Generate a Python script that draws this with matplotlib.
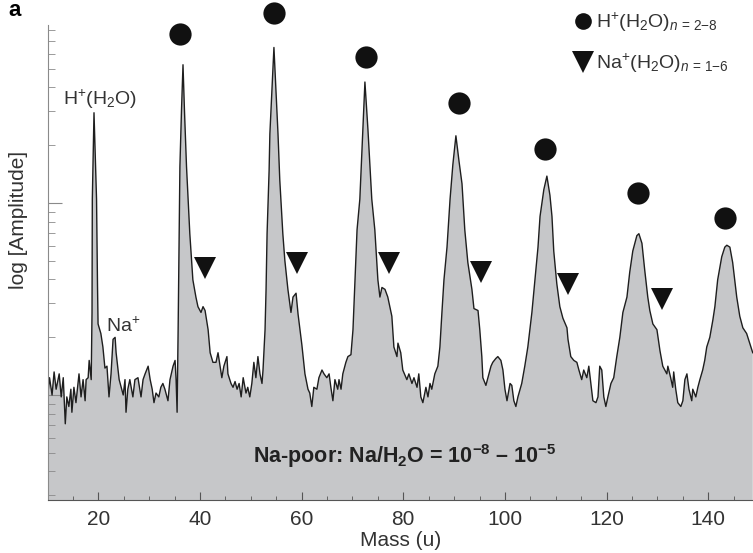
import numpy as np
import matplotlib.pyplot as plt
from matplotlib.lines import Line2D
from matplotlib.ticker import MultipleLocator, NullFormatter, LogLocator

plt.rcParams['font.family'] = ['Liberation Sans', 'DejaVu Sans']
plt.rcParams['mathtext.fontset'] = 'custom'
plt.rcParams['mathtext.rm'] = 'Liberation Sans'
plt.rcParams['mathtext.it'] = 'Liberation Sans:italic'
plt.rcParams['mathtext.bf'] = 'Liberation Sans:bold'

# spectrum: mass (u) and log10 amplitude (arb.)
mass_u = [
    10.1, 10.4, 10.9, 11.3, 11.7, 12.3, 12.7, 13.1, 13.5, 13.8,
    14.2, 14.6, 14.8, 15.2, 15.6, 16.2, 16.6, 17.0, 17.4, 17.6,
    18.0, 18.2, 18.6, 18.76, 18.82, 19.15, 19.65, 19.84, 19.95, 20.5,
    20.9, 21.3, 21.7, 22.1, 22.5, 22.9, 23.3, 23.5, 24.1, 24.5,
    24.9, 25.25, 25.45, 25.8, 26.2, 26.8, 27.2, 27.8, 28.4, 28.8,
    29.2, 29.8, 30.2, 30.6, 30.95, 31.35, 31.9, 32.3, 32.7, 33.1,
    33.7, 34.1, 34.7, 35.1, 35.3, 35.5, 35.7, 35.9, 36.05, 36.36,
    36.66, 36.95, 37.35, 38.0, 38.6, 39.2, 39.6, 40.2, 40.6, 41.0,
    41.6, 42.0, 42.55, 43.15, 43.55, 43.9, 44.3, 44.7, 45.3, 45.5,
    46.1, 46.5, 46.9, 47.3, 47.7, 48.1, 48.5, 49.05, 49.4, 49.8,
    50.2, 50.6, 51.0, 51.4, 51.8, 52.2, 52.4, 52.8, 53.0, 53.2,
    53.6, 53.75, 54.15, 54.55, 54.95, 55.35, 55.7, 56.3, 56.7, 57.3,
    57.9, 58.3, 58.9, 59.3, 60.05, 60.65, 61.25, 61.6, 62.0, 62.4,
    63.0, 63.4, 64.0, 64.4, 64.95, 65.4, 65.75, 66.15, 66.55, 67.1,
    67.35, 67.75, 68.1, 68.7, 69.1, 69.7, 70.1, 70.5, 70.9, 71.45,
    72.05, 72.45, 73.05, 73.8, 74.4, 75.0, 75.4, 75.8, 76.4, 76.95,
    77.75, 78.15, 78.75, 78.95, 79.5, 79.9, 80.7, 81.1, 81.7, 82.1,
    82.7, 83.05, 83.45, 83.85, 84.45, 84.85, 85.25, 85.6, 86.2, 86.8,
    87.2, 87.6, 88.0, 88.6, 89.2, 89.75, 90.35, 90.95, 91.55, 92.1,
    92.7, 93.5, 93.9, 94.7, 95.05, 95.45, 95.65, 96.25, 96.65, 97.25,
    97.6, 98.2, 98.6, 99.2, 99.6, 100.0, 100.4, 101.0, 101.35, 101.75,
    102.15, 102.55, 103.3, 103.9, 104.5, 105.3, 105.9, 106.5, 106.9, 107.65,
    108.25, 108.85, 109.25, 109.6, 110.2, 110.8, 111.4, 112.2, 112.4, 112.95,
    113.55, 114.15, 114.55, 115.1, 115.5, 116.1, 116.5, 116.9, 117.3, 117.9,
    118.3, 118.65, 119.05, 119.45, 119.85, 120.25, 120.85, 121.4, 122.0, 122.6,
    123.2, 124.0, 124.55, 125.15, 125.95, 126.35, 126.95, 127.5, 128.1, 128.5,
    129.1, 129.9, 130.5, 131.05, 131.85, 132.05, 132.6, 133.0, 133.2, 133.6,
    134.0, 134.6, 135.0, 135.4, 135.8, 136.2, 136.75, 136.95, 137.55, 137.95,
    138.35, 138.9, 139.3, 139.7, 140.3, 140.9, 141.3, 141.85, 142.65, 143.25,
    143.65, 144.25, 144.8, 145.6, 146.2, 146.8, 147.55, 148.15, 148.75,
]
log_amp = [
    -0.99, -0.91, -1.00, -0.88, -0.97, -0.89, -1.01, -0.91, -1.15, -1.01,
    -1.06, -0.97, -1.09, -0.96, -1.04, -0.89, -1.01, -0.92, -1.03, -0.92,
    -0.91, -0.82, -0.92, -0.57, 0.02, 0.47, 0.02, -0.43, -0.63, -0.68,
    -0.75, -0.86, -0.85, -1.01, -0.89, -0.71, -0.70, -0.78, -0.92, -0.96,
    -1.00, -0.92, -1.09, -0.97, -0.92, -1.01, -0.92, -0.91, -1.01, -0.92,
    -0.89, -0.85, -0.92, -0.97, -1.04, -0.99, -1.01, -0.96, -0.94, -0.97,
    -1.03, -0.92, -0.85, -0.82, -0.92, -1.09, -0.66, -0.16, 0.19, 0.48,
    0.72, 0.48, 0.19, -0.16, -0.40, -0.49, -0.54, -0.57, -0.54, -0.56,
    -0.66, -0.78, -0.83, -0.83, -0.78, -0.84, -0.91, -0.85, -0.80, -0.89,
    -0.94, -0.96, -0.93, -0.97, -0.94, -1.01, -0.91, -0.99, -0.96, -1.01,
    -0.94, -0.83, -0.91, -0.80, -0.89, -0.94, -0.87, -0.66, -0.45, -0.16,
    0.17, 0.36, 0.59, 0.81, 0.59, 0.36, 0.12, -0.16, -0.30, -0.45,
    -0.57, -0.49, -0.47, -0.58, -0.74, -0.89, -0.97, -0.99, -1.06, -0.96,
    -0.97, -0.91, -0.87, -0.89, -0.91, -0.89, -0.96, -1.03, -0.92, -0.97,
    -0.92, -0.97, -0.89, -0.83, -0.80, -0.79, -0.66, -0.40, -0.14, 0.02,
    0.38, 0.63, 0.38, 0.02, -0.14, -0.40, -0.49, -0.44, -0.45, -0.49,
    -0.59, -0.75, -0.80, -0.73, -0.78, -0.87, -0.92, -0.89, -0.94, -0.91,
    -0.96, -0.89, -1.01, -1.04, -0.96, -1.01, -0.94, -0.97, -0.89, -0.85,
    -0.75, -0.57, -0.40, -0.23, 0.02, 0.20, 0.35, 0.22, 0.10, -0.14,
    -0.31, -0.45, -0.55, -0.56, -0.66, -0.80, -0.91, -0.95, -0.91, -0.85,
    -0.83, -0.81, -0.80, -0.82, -0.87, -0.97, -1.03, -0.94, -0.95, -1.03,
    -1.06, -1.01, -0.94, -0.85, -0.75, -0.57, -0.40, -0.23, -0.07, 0.07,
    0.14, 0.04, -0.07, -0.25, -0.42, -0.54, -0.60, -0.65, -0.71, -0.80,
    -0.82, -0.83, -0.87, -0.92, -0.87, -0.91, -0.85, -0.94, -1.03, -1.04,
    -1.01, -0.85, -0.87, -1.01, -1.06, -1.01, -0.94, -0.91, -0.80, -0.70,
    -0.57, -0.49, -0.36, -0.25, -0.17, -0.16, -0.21, -0.35, -0.49, -0.56,
    -0.63, -0.66, -0.77, -0.85, -0.89, -0.85, -0.91, -0.96, -0.88, -0.97,
    -1.04, -1.06, -1.03, -0.92, -0.89, -0.97, -1.03, -0.97, -1.01, -0.96,
    -0.92, -0.87, -0.82, -0.75, -0.70, -0.61, -0.54, -0.40, -0.28, -0.23,
    -0.22, -0.23, -0.31, -0.49, -0.59, -0.65, -0.68, -0.73, -0.78,
]

# cluster markers
h_mass = [36.1, 54.6, 72.7, 90.9, 107.9, 126.1, 143.3]
h_log = [0.88, 0.99, 0.76, 0.52, 0.28, 0.05, -0.08]
na_mass = [41.0, 59.1, 77.2, 95.3, 112.4, 130.9]
na_log = [-0.34, -0.31, -0.31, -0.36, -0.42, -0.50]

fig = plt.figure(figsize=(7.53, 5.53), dpi=100)
ax = fig.add_axes([48 / 753, 1 - 500 / 553, 705 / 753, 475 / 553])

amp = 10 ** np.array(log_amp)
ax.fill_between(mass_u, amp, 1e-3, color='#c6c7c9', lw=0)
ax.plot(mass_u, amp, color='#1e1e1e', lw=1.0)
ax.set_yscale('log')
ax.set_xlim(10.1, 148.8)
ax.set_ylim(10 ** -1.547, 10 ** 0.927)

ax.plot(h_mass, 10 ** np.array(h_log), 'o', color='#111111', ms=16, mew=0, clip_on=False)
ax.plot(na_mass, 10 ** np.array(na_log), 'v', color='#111111', ms=16.5, mew=0, clip_on=False)

for s in ['top', 'right']:
    ax.spines[s].set_visible(False)
ax.spines['left'].set_color('#8a8a8a')
ax.spines['bottom'].set_color('#555555')

ax.xaxis.set_major_locator(MultipleLocator(20))
ax.xaxis.set_minor_locator(MultipleLocator(5))
ax.yaxis.set_minor_locator(LogLocator(subs=range(2, 10)))
ax.yaxis.set_major_formatter(NullFormatter())
ax.yaxis.set_minor_formatter(NullFormatter())
ax.tick_params(axis='x', which='major', direction='in', length=6, color='#555555',
               labelsize=15, labelcolor='#333333', pad=7)
ax.tick_params(axis='x', which='minor', direction='in', length=3, color='#555555')
ax.tick_params(axis='y', which='major', direction='in', length=10, color='#8a8a8a')
ax.tick_params(axis='y', which='minor', direction='in', length=5, color='#8a8a8a')

ax.set_xlabel('Mass (u)', fontsize=15, color='#333333', labelpad=2)
ax.set_ylabel('log [Amplitude]', fontsize=15, color='#333333')
ax.yaxis.set_label_coords(-0.028, 0.59)

ax.text(13.0, 10 ** 0.54, r'H$^{+}$(H$_2$O)', fontsize=14, color='#333333', va='center', ha='left')
ax.text(21.5, 10 ** -0.64, r'Na$^{+}$', fontsize=14, color='#333333', va='center', ha='left')
ax.text(80.3, 10 ** -1.32, r'Na-poor: Na/H$_\mathbf{2}$O = 10$^{\mathbf{-8}}$ – 10$^{\mathbf{-5}}$',
        fontsize=15.5, fontweight='bold', color='#222222', va='center', ha='center')
fig.text(8 / 753, 1 - 10 / 553, 'a', fontsize=16, fontweight='bold', va='center', ha='left')

handles = [Line2D([], [], marker='o', ls='', color='#111111', ms=12, mew=0),
           Line2D([], [], marker='v', ls='', color='#111111', ms=16, mew=0)]
labels = [r'H$^{+}$(H$_2$O)$_{n\,=\,2\mathrm{-}8}$', r'Na$^{+}$(H$_2$O)$_{n\,=\,1\mathrm{-}6}$']
leg = ax.legend(handles, labels, loc='upper left', bbox_to_anchor=(0.747, 1.03), frameon=False,
                fontsize=14, handlelength=0.9, handletextpad=0.2, labelspacing=0.9,
                borderpad=0, borderaxespad=0)
for t in leg.get_texts():
    t.set_color('#333333')

fig.savefig('out.png', dpi=100)
